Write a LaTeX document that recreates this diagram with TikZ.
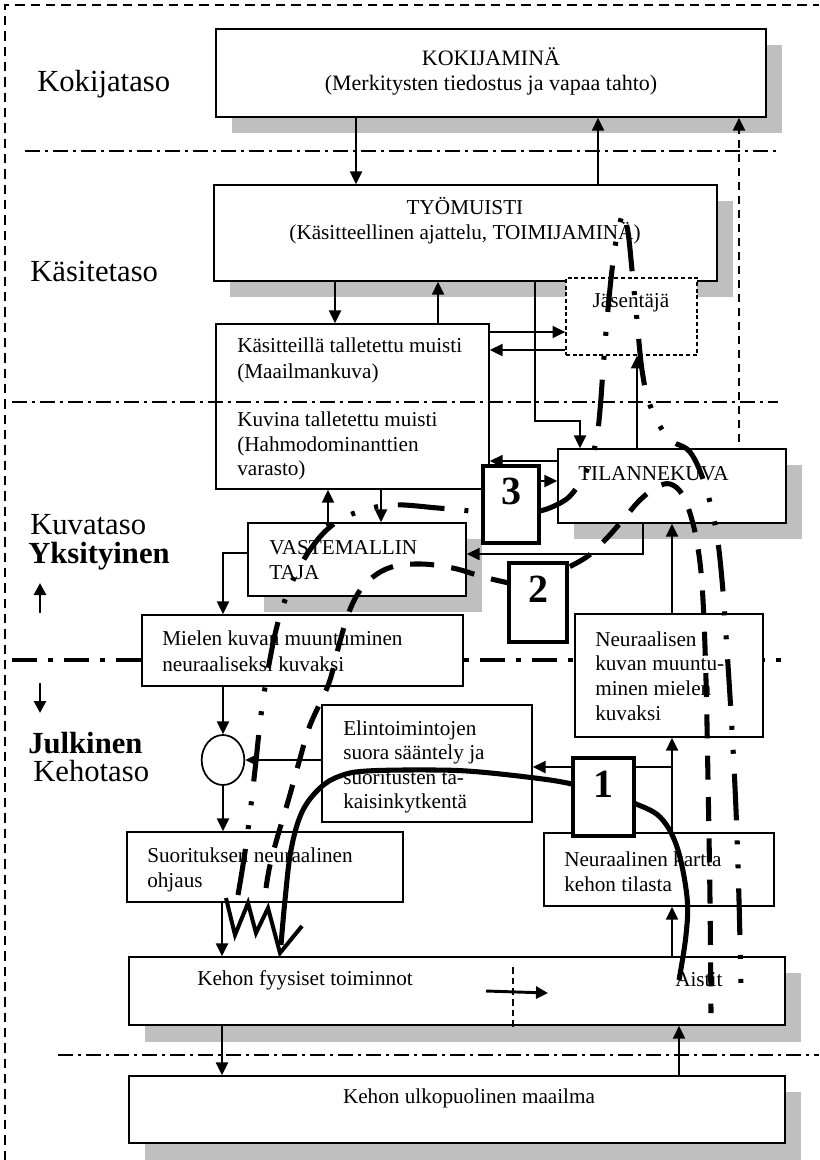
\documentclass[tikz,border=0pt]{standalone}
\usepackage{fontspec}
\setmainfont{Liberation Serif}
\usetikzlibrary{arrows.meta,shapes.geometric,fit}
\begin{document}
\begin{tikzpicture}[x=0.75pt,y=-0.75pt,
  box/.style={draw, line width=1.3pt, fill=white, inner sep=0pt},
  numbox/.style={draw, line width=3.4pt, fill=white, inner sep=0pt, font=\fontsize{30}{30}\selectfont\bfseries},
  shadowc/.style={fill=black!25},
  txt/.style={inner sep=0pt, align=left, anchor=west, font=\fontsize{15.9}{18.4}\selectfont},
  ctxt/.style={inner sep=0pt, align=center, font=\fontsize{15.9}{18.6}\selectfont},
  lvl/.style={inner sep=0pt, anchor=west, font=\fontsize{23}{23}\selectfont},
  lvlb/.style={inner sep=0pt, anchor=west, font=\fontsize{23}{23}\selectfont\bfseries},
  conn/.style={line width=1.4pt, -{Triangle[length=9.5pt,width=9pt]}},
  plainln/.style={line width=1.4pt},
  sep/.style={line width=1pt, dash pattern=on 11pt off 4pt on 2pt off 4pt},
  bigsep/.style={line width=3pt, dash pattern=on 19pt off 8pt on 4pt off 8pt},
  pathA/.style={line width=3.8pt},
  pathB/.style={line width=3.8pt, dash pattern=on 18pt off 13pt},
  pathC/.style={line width=3.8pt, dash pattern=on 35pt off 15pt on 3pt off 15pt on 3pt off 15pt},
]
\useasboundingbox (0,0) rectangle (819,1160);

% outer frame
\draw[line width=1pt, dash pattern=on 7pt off 4.5pt] (5,1160) -- (5,5) -- (819,5);

% shadows
\fill[shadowc] (232,45) rectangle (782,133);
\fill[shadowc] (230,201) rectangle (733,297);
\fill[shadowc] (574,465) rectangle (802,539);
\fill[shadowc] (264,539) rectangle (482,612);
\fill[shadowc] (145,973) rectangle (801,1042);
\fill[shadowc] (145,1092) rectangle (801,1160);

% level separators
\draw[sep] (25,151) -- (780,151);
\draw[sep] (58,1055) -- (819,1055);
\draw[bigsep] (12,660) -- (787,660);

% boxes
\node[box, fit={(216,29)(766,117)}] (kok) {};
\node[box, fit={(214,185)(717,281)}] (tyo) {};
\node[box, line width=1pt, dash pattern=on 3pt off 2pt, fit={(566,278)(697,355)}] (jas) {};
\node[box, fit={(216,324)(489,489)}] (kas) {};
\node[box, fit={(558,449)(786,523)}] (til) {};
\node[box, fit={(248,523)(466,596)}] (vas) {};
\node[box, fit={(142,615)(463,686)}] (mie) {};
\node[box, fit={(575,614)(763,737)}] (neu) {};
\node[box, fit={(322,705)(532,822)}] (eli) {};
\node[box, fit={(127,832)(403,902)}] (suo) {};
\node[box, fit={(544,833)(774,906)}] (kar) {};
\node[box, fit={(129,957)(785,1025)}] (keh) {};
\node[box, fit={(129,1076)(785,1143)}] (ulk) {};
\node[draw, line width=1.3pt, fill=white, ellipse, minimum width=32pt, minimum height=37.5pt, inner sep=0pt] (circ) at (223,760) {};

\draw[sep] (12,402) -- (778,402);

% texts
\node[ctxt, font=\fontsize{16.5}{18.75}\selectfont] (kokt) at (491,71) {KOKIJAMINÄ\\(Merkitysten tiedostus ja vapaa tahto)};
\node[ctxt] (tyot) at (465,221) {TYÖMUISTI\\(Käsitteellinen ajattelu, TOIMIJAMINÄ)};
\node[ctxt] (jast) at (631,303) {Jäsentäjä};
\node[txt, font=\fontsize{15.9}{19.5}\selectfont] (kast1) at (237,360) {Käsitteillä talletettu muisti\\(Maailmankuva)};
\node[txt] (kast2) at (237,446) {Kuvina talletettu muisti\\(Hahmodominanttien\\varasto)};
\node[txt] (tilt) at (578,474) {TILANNEKUVA};
\node[txt] (vast) at (269,560) {VASTEMALLIN\\TAJA};
\node[txt, font=\fontsize{15.9}{19.5}\selectfont] (miet) at (162,651) {Mielen kuvan muuntuminen\\neuraaliseksi kuvaksi};
\node[txt] (neut) at (595,676) {Neuraalisen\\kuvan muuntu-\\minen mielen\\kuvaksi};
\node[txt] (elit) at (343,767) {Elintoimintojen\\suora sääntely ja\\suoritusten ta-\\kaisinkytkentä};
\node[txt] (suot) at (147,870) {Suorituksen neuraalinen\\ohjaus};
\node[txt] (kart) at (564,872) {Neuraalinen kartta\\kehon tilasta};
\node[txt] (keht) at (197,980) {Kehon fyysiset toiminnot};
\node[txt] (aist) at (675,980) {Aistit};
\node[ctxt] (ulkt) at (469,1098) {Kehon ulkopuolinen maailma};

% level labels
\node[lvl] (l1) at (37,84) {Kokijataso};
\node[lvl] (l2) at (30,271) {Käsitetaso};
\node[lvl] (l3) at (30,525) {Kuvataso};
\node[lvlb] (l4) at (28,556) {Yksityinen};
\node[lvlb] (l5) at (28,743) {Julkinen};
\node[lvl] (l6) at (33,771) {Kehotaso};
\coordinate (ua) at (40,613);
\coordinate (ub) at (40,583);
\coordinate (da) at (40,683);
\coordinate (db) at (40,713);
\draw[line width=2.2pt, -{Triangle[length=9pt,width=9pt]}] (ua) -- (ub);
\draw[line width=2.2pt, -{Triangle[length=9pt,width=9pt]}] (da) -- (db);

% connectors
\draw[conn] (356,0 |- kok.south) -- (356,0 |- tyo.north);
\draw[conn] (598,0 |- tyo.north) -- (598,0 |- kok.south);
\coordinate (dA) at (739,442);
\draw[conn, line width=1.6pt, dash pattern=on 6pt off 4.5pt] (dA) -- (739,0 |- kok.south);
\draw[conn] (335,0 |- tyo.south) -- (335,0 |- kas.north);
\draw[conn] (438,0 |- kas.north) -- (438,0 |- tyo.south);
\draw[conn] (kas.east |- 0,332) -- (jas.west |- 0,332);
\draw[conn] (jas.west |- 0,350) -- (kas.east |- 0,350);
\draw[conn] (535,0 |- tyo.south) -- (535,421) -- (580,421) -- (580,0 |- til.north);
\draw[conn] (637,0 |- til.north) -- (637,0 |- jas.south);
\draw[conn] (til.west |- 0,461) -- (kas.east |- 0,461);
\fill (328,524) circle (2.4);
\draw[conn] (328,0 |- vas.north) -- (328,0 |- kas.south);
\draw[conn] (381,0 |- kas.south) -- (381,0 |- vas.north);
\draw[conn] (643,0 |- til.south) -- (643,554) -- (vas.east |- 0,554);
\draw[conn] (vas.west |- 0,553) -- (223,553) -- (223,0 |- mie.north);
\draw[conn] (672,0 |- neu.north) -- (672,0 |- til.south);
\draw[conn] (223,0 |- mie.south) -- (circ.north);
\draw[conn] (circ.south) -- (223,0 |- suo.north);
\draw[conn] (eli.west |- circ.east) -- (circ.east);
\draw[conn] (672,0 |- kar.north) -- (672,0 |- neu.south);
\coordinate (br) at (672,767);
\draw[conn] (br) -- (eli.east |- br);
\draw[conn] (672,0 |- keh.north) -- (672,0 |- kar.south);
\draw[conn] (222,0 |- suo.south) -- (222,0 |- keh.north);
\draw[conn] (222,0 |- keh.south) -- (222,0 |- ulk.north);
\draw[conn] (679,0 |- ulk.north) -- (679,0 |- keh.south);
\coordinate (kd1) at (513,967);
\coordinate (kd2) at (513,1028);
\draw[line width=1pt, dash pattern=on 5pt off 3pt] (kd1) -- (kd2);
\coordinate (ka1) at (486,991);
\coordinate (ka2) at (548,993);
\draw[line width=2.2pt, -{Triangle[length=9pt,width=9pt]}] (ka1) -- (ka2);

% thick paths
% path 1 (solid)
\draw[pathA] plot[smooth, tension=0.6] coordinates {(620,797) (634,803) (660,817) (677,847) (687,897) (686,935) (679,980)};
\draw[pathA] plot[smooth, tension=0.6] coordinates {(585,787) (550,780) (480,772) (433,770) (367,771) (340,776) (320,788) (302,812) (291,850) (285,900) (281,945)};
\draw[line width=3pt, line join=miter] (226,898) -- (235,935) -- (248,903) -- (256,933) -- (268,908) -- (280,953) -- (302,926);
% path 2 (dashed)
\draw[pathB] plot[smooth, tension=0.6] coordinates {(266,888) (270,865) (278,835) (289,798) (299,762) (309,728) (320,703) (330,680) (339,645) (349,612) (361,589) (377,574) (395,566) (415,564) (435,565) (457,569) (477,575) (500,581) (520,584) (545,578) (565,569) (588,556) (606,539) (622,521) (640,500) (657,487) (670,484) (682,494) (692,520) (699,555) (703,600) (706,680) (708,780) (710,900) (711,1013)};
% path 3 (dash-dot-dot)
\draw[pathC] plot[smooth, tension=0.6] coordinates {(238,895) (243,865) (248,830) (255,770) (261,715) (268,670) (276,630) (285,600) (297,572) (312,547) (330,527) (352,514) (390,505) (438,508) (490,513)};
\draw[pathC] plot[smooth, tension=0.6] coordinates {(536,512) (552,507) (570,496) (586,472) (596,442) (600,410) (603,370) (607,320) (612,270) (617,235) (623,212)} -- plot[smooth, tension=0.6] coordinates {(623,212) (628,232) (632,270) (637,320) (642,370) (650,405) (668,438) (690,452) (705,485) (716,530) (722,580) (727,650) (732,730) (736,810) (739,900) (741,990)};

% numbered boxes
\node[numbox, fit={(483,466)(539,543)}] (b3) {3};
\node[numbox, fit={(509,563)(567,642)}] (b2) {2};
\node[numbox, fit={(573,758)(634,836)}] (b1) {1};
\draw[conn] (b3.east |- 0,481) -- (til.west |- 0,481);
\end{tikzpicture}
\end{document}
